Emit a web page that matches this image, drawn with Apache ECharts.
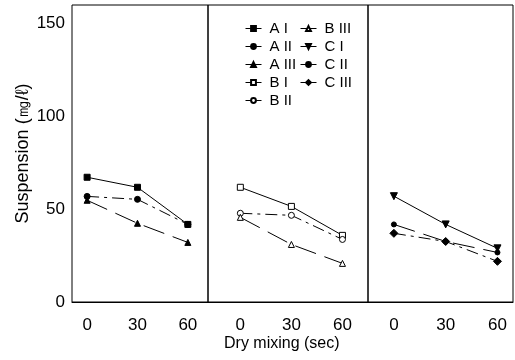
<!DOCTYPE html>
<html>
<head>
<meta charset="utf-8">
<script src="https://cdn.jsdelivr.net/npm/echarts@6/dist/echarts.min.js"></script>
<style>html,body{margin:0;padding:0;background:#fff}#c{width:515px;height:360px}</style>
</head>
<body>
<div id="c"></div>
<script>
// ---- data ----
var times = [0, 30, 60];
var yTicks = [0, 50, 100, 150];
var xTicks = [0, 30, 60];
var seriesNames = ['A I', 'A II', 'A III', 'B I', 'B II', 'B III', 'C I', 'C II', 'C III'];
var AI   = [67.2, 61.8, 41.8];
var AII  = [56.9, 55.3, 41.8];
var AIII = [54.8, 42.4, 32.1];
var BI   = [61.8, 51.5, 35.9];
var BII  = [47.8, 46.7, 33.7];
var BIII = [45.6, 31.0, 20.8];
var CI   = [57.0, 41.8, 28.9];
var CII  = [41.8, 32.6, 26.7];
var CIII = [37.0, 32.6, 21.9];

var font = 'Arial, "Liberation Sans", Helvetica, sans-serif';
var chart = echarts.init(document.getElementById('c'), null, {renderer: 'canvas'});

function pairs(vals) { return times.map(function (t, i) { return [t, vals[i]]; }); }

var lineTypes = {
  solid: 'solid',
  dashdot: [12, 5, 3, 5],
  dash: [22, 9]
};

var specs = [
  {name: seriesNames[0], d: AI,   p: 0, sym: 'rect',     fill: '#000', lt: 'solid',   sz: 6},
  {name: seriesNames[1], d: AII,  p: 0, sym: 'circle',   fill: '#000', lt: 'dashdot', sz: 6},
  {name: seriesNames[2], d: AIII, p: 0, sym: 'triangle', fill: '#000', lt: 'dash',    sz: 6},
  {name: seriesNames[3], d: BI,   p: 1, sym: 'rect',     fill: '#fff', lt: 'solid',   sz: 6},
  {name: seriesNames[4], d: BII,  p: 1, sym: 'circle',   fill: '#fff', lt: 'dashdot', sz: 6},
  {name: seriesNames[5], d: BIII, p: 1, sym: 'triangle', fill: '#fff', lt: 'dash',    sz: 6},
  {name: seriesNames[6], d: CI,   p: 2, sym: 'path://M0,0L10,0L5,9Z', fill: '#000', lt: 'solid', sz: 7},
  {name: seriesNames[7], d: CII,  p: 2, sym: 'circle',   fill: '#000', lt: 'dash',    sz: 5},
  {name: seriesNames[8], d: CIII, p: 2, sym: 'diamond',  fill: '#000', lt: 'dashdot', sz: 8}
];

var grids = [
  {left: 72,  top: 5, width: 136, height: 297},
  {left: 208, top: 5, width: 160, height: 297},
  {left: 368, top: 5, width: 145, height: 297}
].map(function (g) {
  return Object.assign({show: true, borderColor: '#000', borderWidth: 1, backgroundColor: 'transparent'}, g);
});

var xExt = [[-9, 72], [-19, 75], [-15, 69]];
var xAxes = xExt.map(function (e, i) {
  return {
    type: 'value', gridIndex: i, min: e[0], max: e[1],
    axisLine: {show: true, onZero: false, lineStyle: {color: '#000', width: 1}},
    axisTick: {show: false},
    splitLine: {show: false},
    axisLabel: {customValues: xTicks, color: '#000', fontSize: 17, fontFamily: font, margin: 15}
  };
});

var yAxes = [0, 1, 2].map(function (i) {
  return {
    type: 'value', gridIndex: i, min: 0, max: 160,
    axisLine: {show: false},
    axisTick: {show: false},
    splitLine: {show: false},
    axisLabel: {show: i === 0, customValues: yTicks, color: '#000', fontSize: 17, fontFamily: font, margin: 7},
    name: i === 0 ? 'Suspension (㎎/ℓ)' : '',
    nameLocation: 'middle', nameGap: 40,
    nameTextStyle: {color: '#000', fontSize: 18, fontFamily: font}
  };
});

var series = specs.map(function (s) {
  return {
    name: s.name, type: 'line',
    xAxisIndex: s.p, yAxisIndex: s.p,
    data: pairs(s.d),
    symbol: s.sym, symbolSize: s.sz, showSymbol: true,
    itemStyle: {color: s.fill, borderColor: '#000', borderWidth: 1},
    lineStyle: {color: '#000', width: 1, type: lineTypes[s.lt]},
    animation: false
  };
});

var legendCommon = {
  orient: 'vertical', itemWidth: 16, itemHeight: 6, itemGap: 3,
  textStyle: {color: '#000', fontSize: 15, fontFamily: font, padding: [0, 0, 0, 3]},
  lineStyle: {type: 'solid', width: 1, color: '#000'},
  inactiveColor: '#000'
};

var option = {
  backgroundColor: '#fff',
  animation: false,
  grid: grids,
  xAxis: xAxes,
  yAxis: yAxes,
  legend: [
    Object.assign({left: 240, top: 16, data: seriesNames.slice(0, 5)}, legendCommon),
    Object.assign({left: 295, top: 16, data: seriesNames.slice(5)}, legendCommon)
  ],
  graphic: [{
    type: 'text', left: 224, top: 336,
    style: {text: 'Dry mixing (sec)', fill: '#000', fontSize: 16, fontFamily: font}
  }],
  series: series
};
chart.setOption(option);
</script>
</body>
</html>
